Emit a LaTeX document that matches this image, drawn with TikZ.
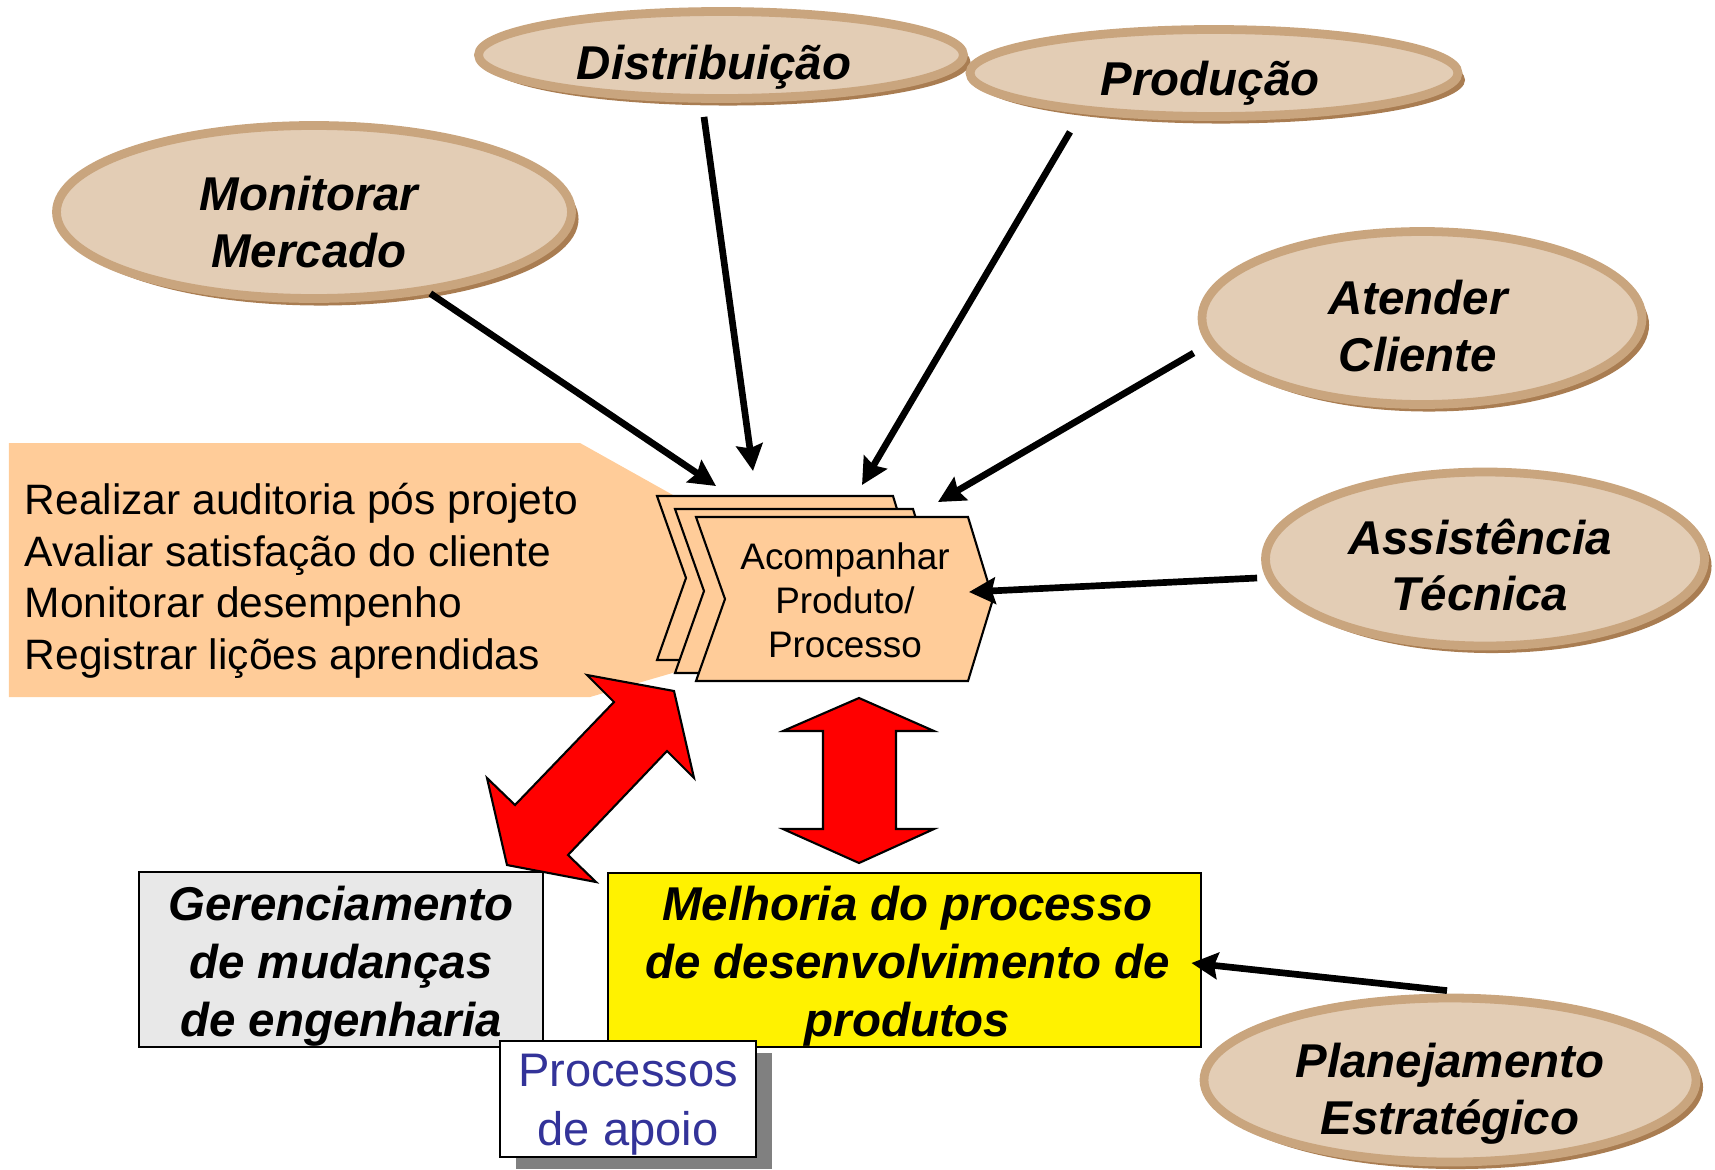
\documentclass[tikz,border=0pt]{standalone}
\usepackage{fontspec}
\setmainfont{Liberation Sans}
\usetikzlibrary{calc,shapes.geometric,arrows.meta,shadows}

\definecolor{peach}{HTML}{FFCC99}
\definecolor{beige}{HTML}{E3CDB5}
\definecolor{rim}{HTML}{C9A57E}
\definecolor{rimdark}{HTML}{A97D52}
\definecolor{navy}{HTML}{333399}
\definecolor{boxgray}{HTML}{E8E8E8}

\begin{document}
\begin{tikzpicture}[
        oval/.style={ellipse, draw=rim, line width=2.5pt, fill=beige, inner sep=0pt,
            general shadow={fill=rimdark, shadow xshift=2pt, shadow yshift=-2pt}},
        ovaltext/.style={align=center, inner sep=0pt, font=\fontsize{13.5}{16.2}\selectfont\bfseries\itshape},
        conn/.style={-{Stealth[length=7.5pt,width=7.5pt,inset=1pt]}, line width=1.9pt},
        box/.style={draw, line width=0.8pt, align=center, inner sep=0pt,
            font=\fontsize{13.5}{16.5}\selectfont\bfseries\itshape},
        chev/.style={draw, fill=peach, line width=0.6pt},
        redarrow/.style={draw, fill=red, line width=0.6pt}
    ]
        \useasboundingbox (0,0) rectangle (17.15,-11.69);

        % Ellipses
        \node[oval, minimum width=5.15cm, minimum height=1.73cm] (mon) at (3.14,-2.12) {};
        \node[ovaltext] at ($(mon)+(-0.05,-0.10)$) {Monitorar\\Mercado};

        \node[oval, minimum width=4.85cm, minimum height=0.87cm] (dist) at (7.21,-0.55) {};
        \node[ovaltext] at ($(dist)+(-0.07,-0.12)$) {Distribuição};

        \node[oval, minimum width=4.88cm, minimum height=0.87cm] (prod) at (12.14,-0.73) {};
        \node[ovaltext] at ($(prod)+(-0.04,-0.10)$) {Produção};

        \node[oval, minimum width=4.40cm, minimum height=1.73cm] (aten) at (14.22,-3.18) {};
        \node[ovaltext] at ($(aten)+(-0.04,-0.08)$) {Atender\\Cliente};

        \node[oval, minimum width=4.39cm, minimum height=1.74cm] (assist) at (14.85,-5.59) {};
        \node[ovaltext] at ($(assist)+(-0.05,-0.06)$) {Assistência\\Técnica};

        \node[oval, minimum width=4.92cm, minimum height=1.64cm] (plan) at (14.50,-10.80) {};
        \node[ovaltext] at ($(plan)+(0,-0.14)$) {Planejamento\\Estratégico};

        % Callout
        \fill[peach] (0.09,-4.43) -- (5.80,-4.43) -- (8.82,-6.12) -- (5.90,-6.97) -- (0.09,-6.97) -- cycle;
        \node[anchor=west, align=left, inner sep=0pt, font=\fontsize{12.1}{14.65}\selectfont] (list) at (0.24,-5.81)
            {Realizar auditoria pós projeto\\Avaliar satisfação do cliente\\Monitorar desempenho\\Registrar lições aprendidas};

        % Chevrons
        \foreach \x/\y/\w in {6.57/-4.96/2.36, 6.75/-5.09/2.38, 6.96/-5.17/2.72}
            \draw[chev] (\x,\y) -- ++(\w,0) -- ++(0.25,-0.82) -- ++(-0.25,-0.82) -- ++(-\w,0) -- ++(0.29,0.82) -- cycle;
        \node[align=center, font=\fontsize{10.5}{12.5}\selectfont] (acomp) at (8.45,-6.00) {Acompanhar\\Produto/\\Processo};

        % Red arrows
        \draw[redarrow] (6.74,-6.91) -- (6.94,-7.78) -- (6.67,-7.51) -- (5.68,-8.55) -- (5.96,-8.82)
            -- (5.07,-8.65) -- (4.87,-7.78) -- (5.15,-8.05) -- (6.14,-7.02) -- (5.87,-6.75) -- cycle;
        \draw[redarrow] (8.59,-6.98) -- (9.34,-7.31) -- (8.96,-7.31) -- (8.96,-8.29) -- (9.34,-8.29)
            -- (8.59,-8.63) -- (7.83,-8.29) -- (8.23,-8.29) -- (8.23,-7.31) -- (7.83,-7.31) -- cycle;

        % Boxes
        \node[box, fill=boxgray, minimum width=4.04cm, minimum height=1.75cm] (ger) at (3.41,-9.595) {};
        \node[box, draw=none] at ($(ger)+(0,-0.07)$) {Gerenciamento\\de mudanças\\de engenharia};
        \node[box, fill=yellow, minimum width=5.93cm, minimum height=1.74cm] (melh) at (9.045,-9.60) {};
        \node[box, draw=none] at ($(melh)+(0.03,-0.06)$) {Melhoria do processo\\de desenvolvimento de\\produtos};
        \node[box, fill=white, minimum width=2.56cm, minimum height=1.16cm,
            drop shadow={shadow xshift=0.16cm, shadow yshift=-0.12cm, fill=gray, opacity=1}] (apoio) at (6.28,-10.99) {};
        \node[align=center, inner sep=0pt, text=navy, font=\fontsize{13.4}{16.8}\selectfont] at ($(apoio)+(0,-0.06)$)
            {Processos\\de apoio};

        % Connectors
        \draw[conn] (mon.-35) -- ($(acomp)+(-1.29,1.14)$);
        \draw[conn] ($(dist.south)+(-0.17,-0.14)$) -- ($(acomp)+(-0.92,1.29)$);
        \draw[conn] ($(prod.south)+(-1.44,-0.11)$) -- ($(acomp)+(0.17,1.15)$);
        \draw[conn] ($(aten.west)+(-0.04,-0.35)$) -- ($(acomp)+(0.93,0.98)$);
        \draw[conn] ($(assist.west)+(-0.04,-0.19)$) -- ($(acomp)+(1.24,0.08)$);
        \draw[conn] ($(plan.north)+(-0.03,0.03)$) -- ($(melh.east)+(-0.11,-0.03)$);
\end{tikzpicture}
\end{document}
